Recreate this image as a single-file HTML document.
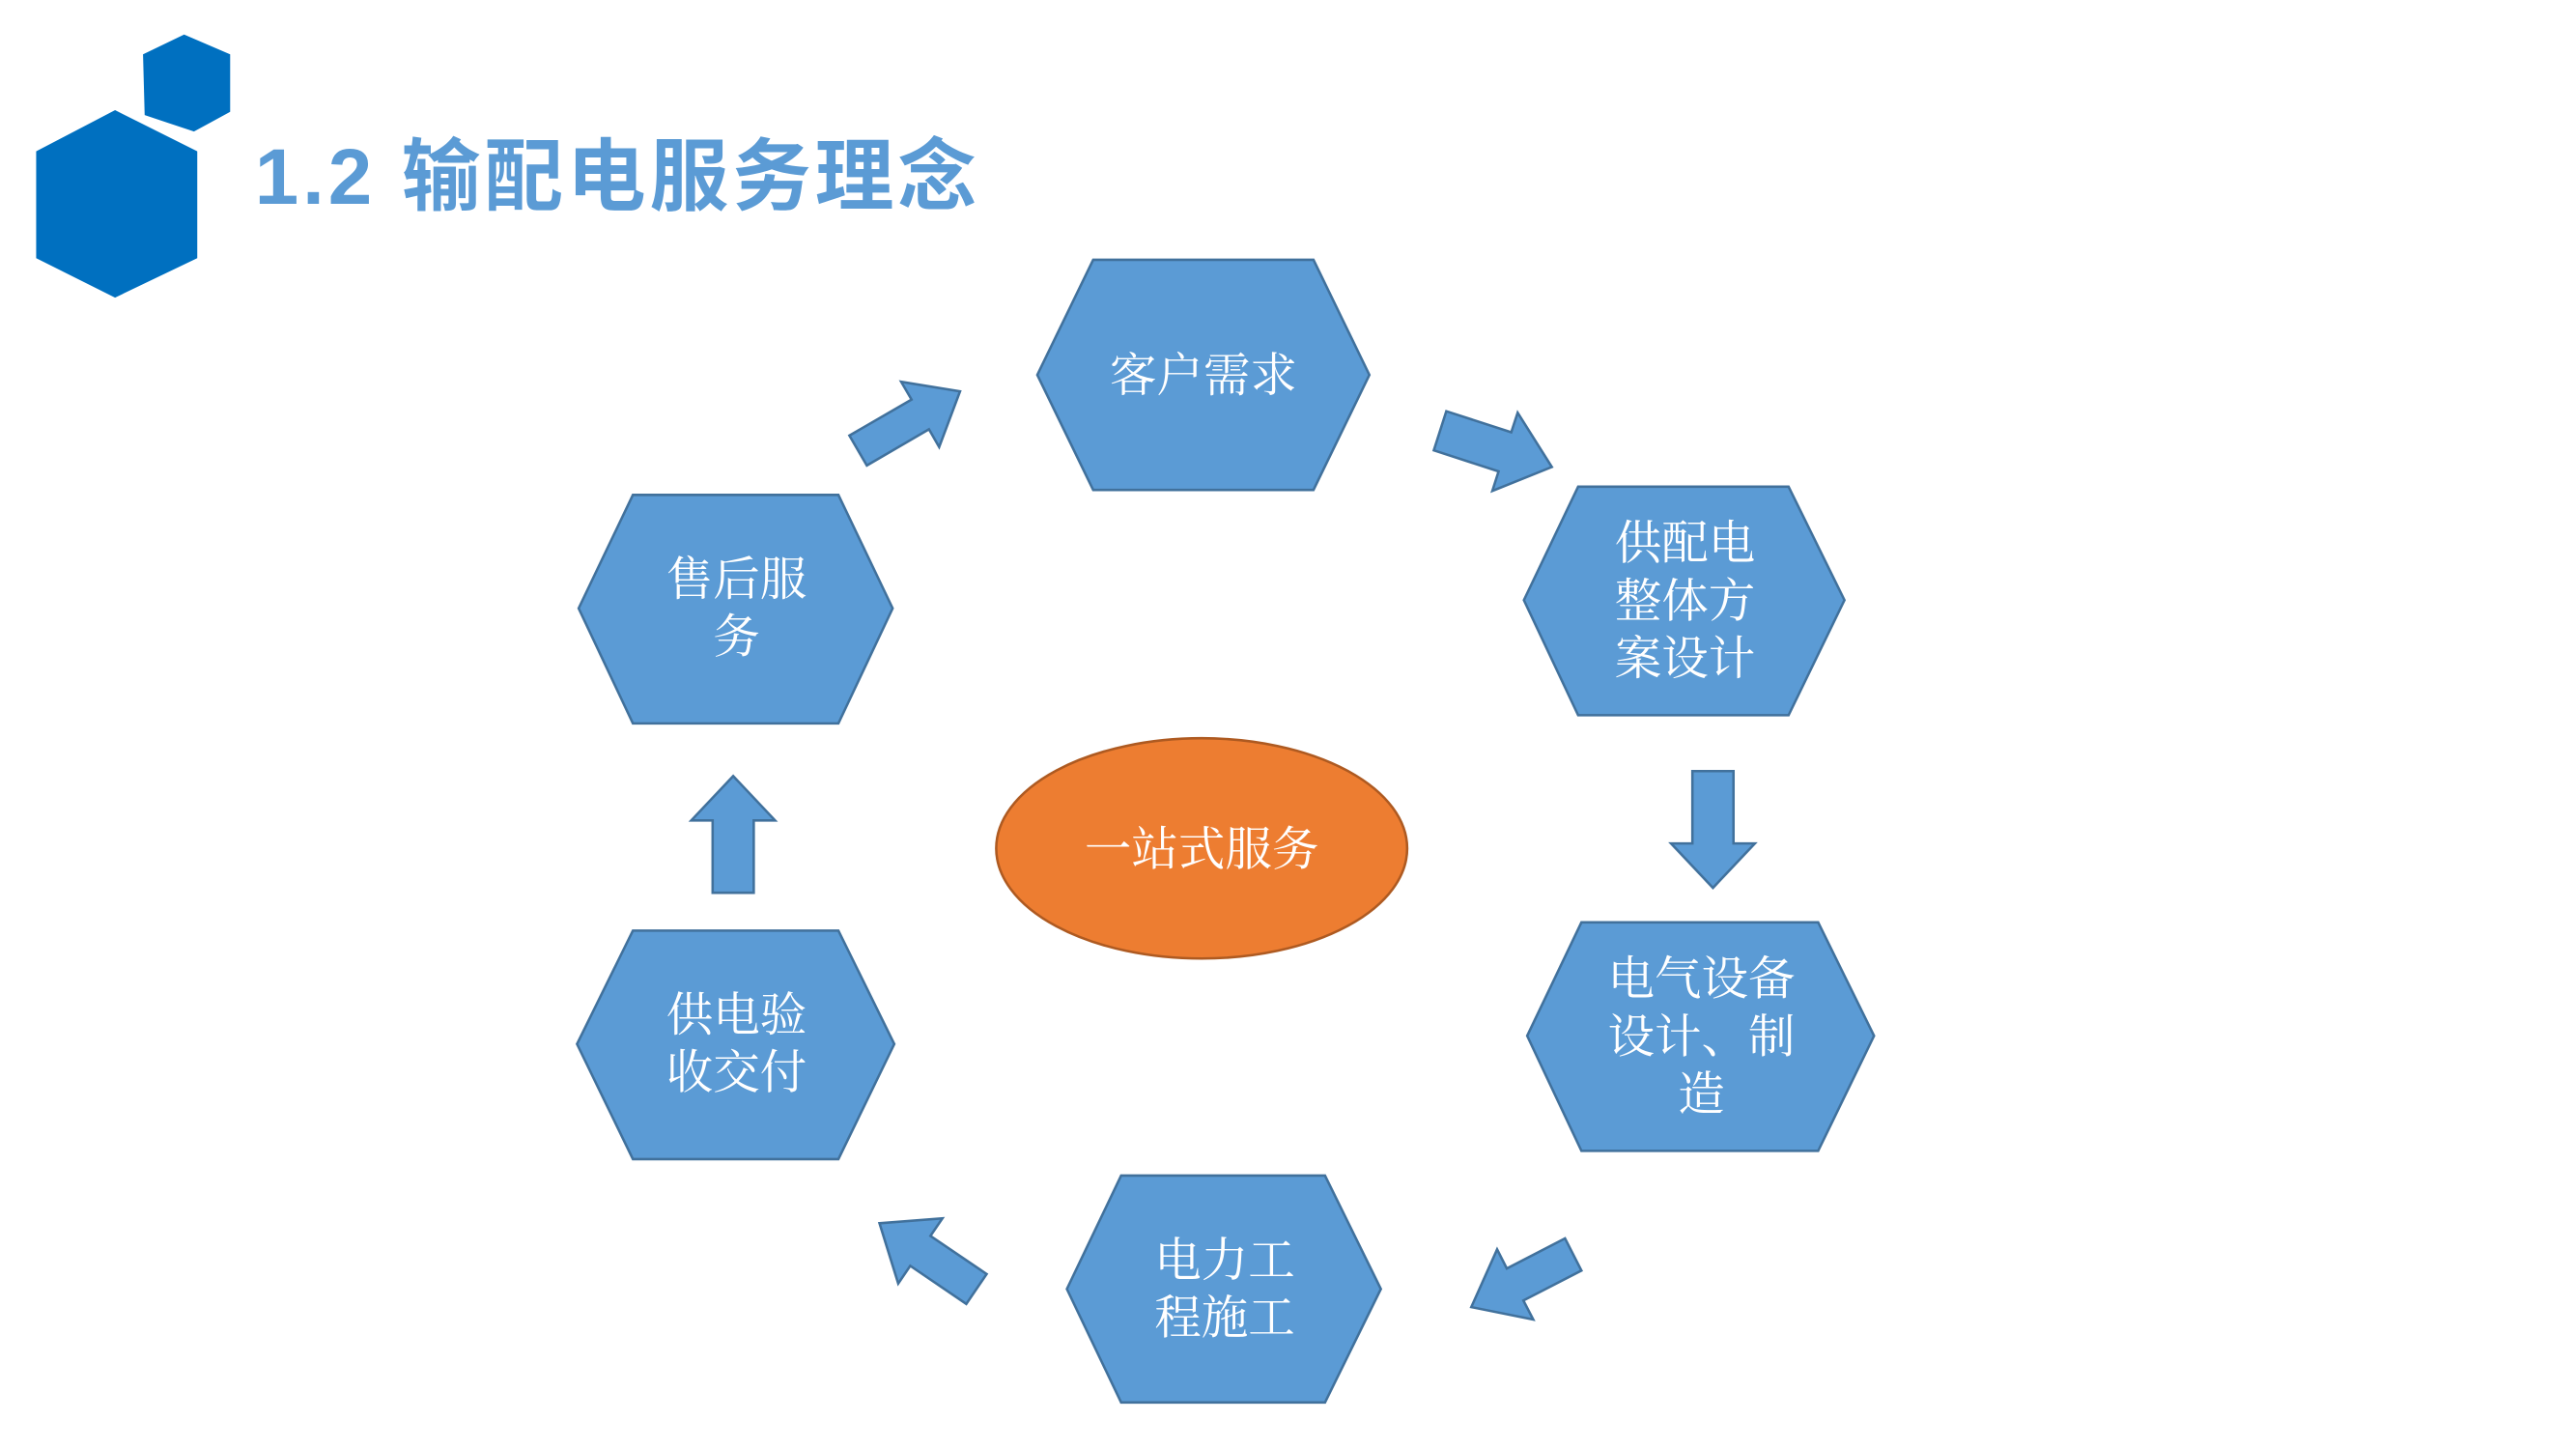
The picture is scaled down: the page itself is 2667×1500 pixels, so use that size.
<!DOCTYPE html>
<html><head><meta charset="utf-8"><style>
html,body{margin:0;padding:0;background:#fff}
svg{display:block}
.h{fill:#5B9BD5;stroke:#41719C;stroke-width:1.5}
.t{fill:#fff;font-family:"Liberation Serif","Noto Serif CJK SC",serif;font-size:28.5px;text-anchor:middle}
</style></head><body>
<svg id="s" width="2667" height="1500" viewBox="0 0 1567 881.3" xmlns="http://www.w3.org/2000/svg">
<polygon points="70,67 120,92 120,157 70,181 22,157 22,92" fill="#0070C0"/>
<polygon points="112,21 140,33 140,68 118,80 88,70 87,33" fill="#0070C0"/>
<text x="155" y="124" font-family="'Liberation Sans','Noto Sans CJK SC',sans-serif" font-weight="bold" font-size="48" letter-spacing="2.3" fill="#5B9BD5">1.2 输配电服务理念</text>

<polygon class="h" points="665,158 799,158 833,228 799,298 665,298 631,228"/>
<text class="t" x="732" y="238">客户需求</text>

<polygon class="h" points="960,296 1088,296 1122,365 1088,435 960,435 927,365"/>
<text class="t" x="1025" y="340">供配电</text>
<text class="t" x="1025" y="375">整体方</text>
<text class="t" x="1025" y="410">案设计</text>

<polygon class="h" points="962,561 1106,561 1140,630 1106,700 962,700 929,630"/>
<text class="t" x="1035" y="605">电气设备</text>
<text class="t" x="1035" y="640">设计、制</text>
<text class="t" x="1035" y="675">造</text>

<polygon class="h" points="682,715 806,715 840,784 806,853 682,853 649,784"/>
<text class="t" x="745" y="776">电力工</text>
<text class="t" x="745" y="811">程施工</text>

<polygon class="h" points="385,566 510,566 544,635 510,705 385,705 351,635"/>
<text class="t" x="448" y="627">供电验</text>
<text class="t" x="448" y="662">收交付</text>

<polygon class="h" points="385,301 510,301 543,370 510,440 385,440 352,370"/>
<text class="t" x="448" y="362">售后服</text>
<text class="t" x="448" y="397">务</text>

<ellipse cx="731" cy="516" rx="125" ry="67" fill="#ED7D31" stroke="#AE5A21" stroke-width="1.5"/>
<text class="t" x="731" y="526">一站式服务</text>
<g id="arrows"></g>
</svg>
<script>
var A=[[522,274,584,238,21,46,28],[876,262,944,284,25,50,30],[1042,469,1042,540,25,51,27],[957,763,895,795,22,48,30],[594,784,535,744,22,48,30],[446,543,446,472,25,51,27]];
var g=document.getElementById('arrows'),s='';
A.forEach(function(a){var x1=a[0],y1=a[1],x2=a[2],y2=a[3],sw=a[4]/2,hw=a[5]/2,hl=a[6];
var dx=x2-x1,dy=y2-y1,L=Math.hypot(dx,dy),ux=dx/L,uy=dy/L,px=-uy,py=ux;
var bx=x2-ux*hl,by=y2-uy*hl;
var p=[[x1+px*sw,y1+py*sw],[bx+px*sw,by+py*sw],[bx+px*hw,by+py*hw],[x2,y2],[bx-px*hw,by-py*hw],[bx-px*sw,by-py*sw],[x1-px*sw,y1-py*sw]];
s+='<polygon class="h" points="'+p.map(function(q){return q[0].toFixed(1)+','+q[1].toFixed(1)}).join(' ')+'"/>';});
g.innerHTML=s;
</script>
</body></html>
